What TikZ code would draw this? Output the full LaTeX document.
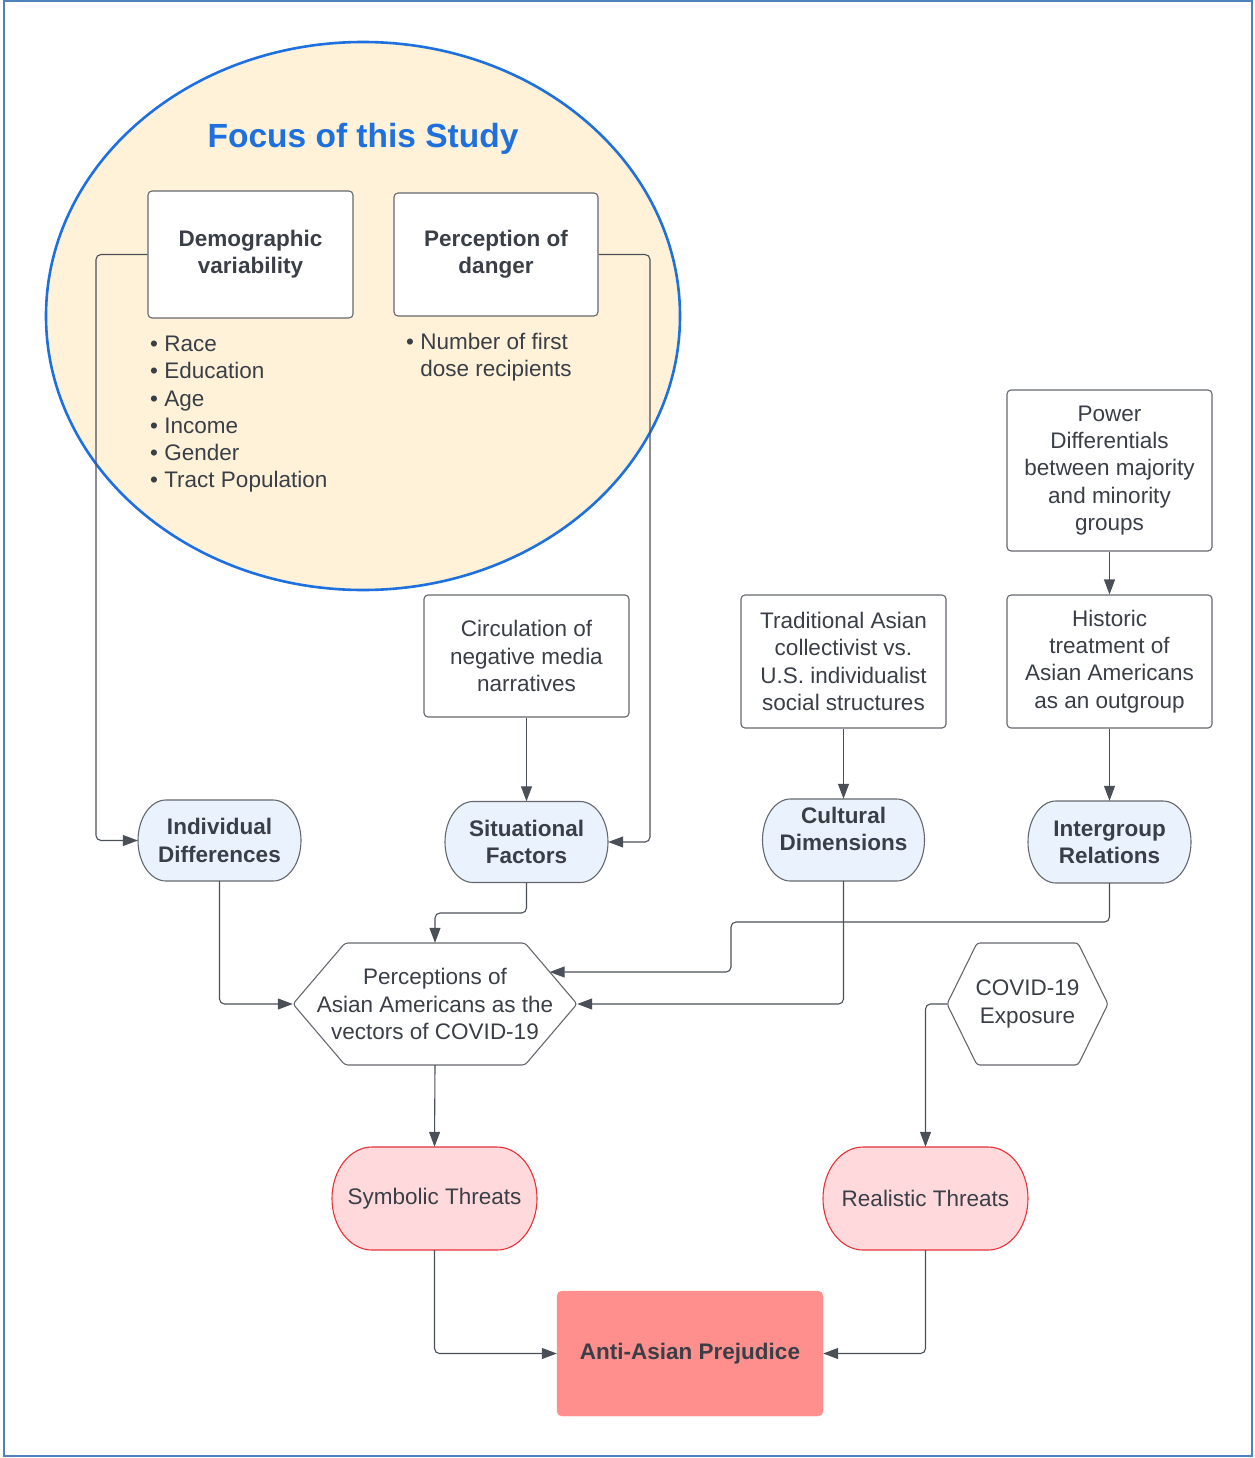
\documentclass[tikz,border=0pt]{standalone}
\usepackage{fontspec}
\setmainfont{Liberation Sans}
\usetikzlibrary{arrows.meta,shapes.geometric}
\definecolor{txt}{RGB}{58,63,71}
\definecolor{outerblue}{RGB}{79,129,189}
\definecolor{ellblue}{RGB}{30,112,222}
\definecolor{cream}{RGB}{255,242,216}
\definecolor{boxgray}{RGB}{100,104,110}
\definecolor{lightblue}{RGB}{234,242,254}
\definecolor{pinkfill}{RGB}{255,217,219}
\definecolor{pinkdraw}{RGB}{230,50,55}
\definecolor{salmon}{RGB}{255,143,140}
\definecolor{conncol}{RGB}{75,80,88}
\newcommand\regtxt{\fontsize{22.5}{27.2}\selectfont}
\newcommand\boldtxt{\fontsize{22.5}{27.2}\selectfont\bfseries}
% capsule: name, x, y, w, h, rx, path style, node style, text
\newcommand\mycapsule[9]{%
  \path[#7] ({#2-#4/2+#6},{#3+#5/2}) -- ({#2+#4/2-#6},{#3+#5/2})
    arc[start angle=90,end angle=-90,x radius=#6,y radius=#5/2]
    -- ({#2-#4/2+#6},{#3-#5/2})
    arc[start angle=270,end angle=90,x radius=#6,y radius=#5/2] -- cycle;
  \node[plain,#8,minimum width=#4,minimum height=#5] (#1) at (#2,#3) {#9};}
% hexagon: name, x, y, w, h, dx, text
\newcommand\myhex[7]{%
  \path[hexstyle] ({#2-#4/2},#3) -- ({#2-#4/2+#6},{#3+#5/2}) -- ({#2+#4/2-#6},{#3+#5/2})
    -- ({#2+#4/2},#3) -- ({#2+#4/2-#6},{#3-#5/2}) -- ({#2-#4/2+#6},{#3-#5/2}) -- cycle;
  \node[plain,font=\regtxt,minimum width=#4,minimum height=#5] (#1) at (#2,#3) {#7};}
\begin{document}
\begin{tikzpicture}[x=1pt,y=1pt,
  every node/.style={text=txt},
  plain/.style={inner sep=0pt,align=center},
  box/.style={draw=boxgray,line width=1.1pt,rounded corners=4pt,fill=white,
    align=center,inner sep=0pt,font=\regtxt},
  bluecap/.style={draw=boxgray,line width=1.1pt,fill=lightblue},
  pinkcap/.style={draw=pinkdraw,line width=1.1pt,fill=pinkfill},
  hexstyle/.style={draw=boxgray,line width=1.1pt,fill=white,rounded corners=3pt},
  conn/.style={draw=conncol,line width=1.1pt,rounded corners=5pt,
    -{Triangle[length=15pt,width=11pt]}}]
\useasboundingbox (0,0) rectangle (1254,-1458);
\draw[outerblue,line width=2pt] (3.5,-1.5) rectangle (1251.5,-1456);

% focus ellipse
\node[ellipse,draw=ellblue,line width=2.6pt,fill=cream,minimum width=634,
  minimum height=548,inner sep=0pt] (focus) at (363,-316) {};
\node[font=\fontsize{33.5}{40}\selectfont\bfseries,text=ellblue] (title) at (363,-139) {Focus of this Study};

\node[box,font=\boldtxt,minimum width=205,minimum height=127] (demo) at (250.5,-254.5) {Demographic\\variability};
\node[box,font=\boldtxt,minimum width=204,minimum height=123] (danger) at (496,-254.5) {Perception of\\danger};
\node[anchor=north west,align=left,inner sep=0pt,font=\regtxt] (demolist) at (150,-336)
  {• Race\\• Education\\• Age\\• Income\\• Gender\\• Tract Population};
\node[anchor=north west,align=left,inner sep=0pt,font=\regtxt] (dangerlist) at (406,-333)
  {• Number of first\\\phantom{• }dose recipients};

% upper boxes
\node[box,minimum width=205,minimum height=122] (circ) at (526.5,-656) {Circulation of\\negative media\\narratives};
\node[box,minimum width=205,minimum height=133] (trad) at (843.5,-661.5) {Traditional Asian\\collectivist vs.\\U.S. individualist\\social structures};
\node[box,minimum width=205,minimum height=161] (power) at (1109.5,-470.5) {Power\\Differentials\\between majority\\and minority\\groups};
\node[box,minimum width=205,minimum height=133] (hist) at (1109.5,-661.5) {Historic\\treatment of\\Asian Americans\\as an outgroup};

% capsules
\mycapsule{indiv}{219.5}{-840.5}{163}{81}{28}{bluecap}{font=\boldtxt}{Individual\\Differences}
\mycapsule{sit}{526.5}{-842}{163}{81}{28}{bluecap}{font=\boldtxt}{Situational\\Factors}
\mycapsule{cult}{843.5}{-840}{162}{82}{28}{bluecap}{font=\boldtxt}{\raisebox{0pt}[\height][\dimexpr\depth+17pt\relax]{\begin{tabular}{@{}c@{}}Cultural\\Dimensions\end{tabular}}}
\mycapsule{inter}{1109.5}{-842}{163}{82}{28}{bluecap}{font=\boldtxt}{Intergroup\\Relations}

% hexagons
\myhex{perc}{435}{-1004}{284}{122}{52}{Perceptions of\\Asian Americans as the\\vectors of COVID-19}
\myhex{covid}{1027.5}{-1004}{161}{122}{30}{COVID-19\\Exposure}
\coordinate (percR) at (549.7,-972);

% threats
\mycapsule{sym}{434.5}{-1198.5}{205}{103}{40}{pinkcap}{font=\regtxt}{Symbolic Threats}
\mycapsule{real}{925.5}{-1198.5}{205}{103}{40}{pinkcap}{font=\regtxt}{Realistic Threats}
\node[fill=salmon,draw=salmon,rounded corners=5pt,minimum width=266,minimum height=125,
  inner sep=0pt,font=\boldtxt] (anti) at (690,-1353.5) {Anti-Asian Prejudice};

% connectors
\draw[conn] (demo.west) -- (96,-254.5) |- (indiv.west);
\draw[conn] (danger.east) -- (650,-254.5) |- (sit.east);
\draw[conn] (circ.south) -- (sit.north);
\draw[conn] (trad.south) -- (cult.north);
\draw[conn] (power.south) -- (hist.north);
\draw[conn] (hist.south) -- (inter.north);
\draw[conn] (indiv.south) |- (perc.west);
\draw[conn] (sit.south) |- (480,-913) -| (perc.north);
\draw[conn] (inter.south) |- (780,-922) -| (731,-950) |- (percR);
\draw[conn] (cult.south) |- (perc.east);
\draw[conn] (perc.south) -- (sym.north);
\draw[conn] (covid.west) -| (real.north);
\draw[conn] (sym.south) |- (anti.west);
\draw[conn] (real.south) |- (anti.east);
\end{tikzpicture}
\end{document}
